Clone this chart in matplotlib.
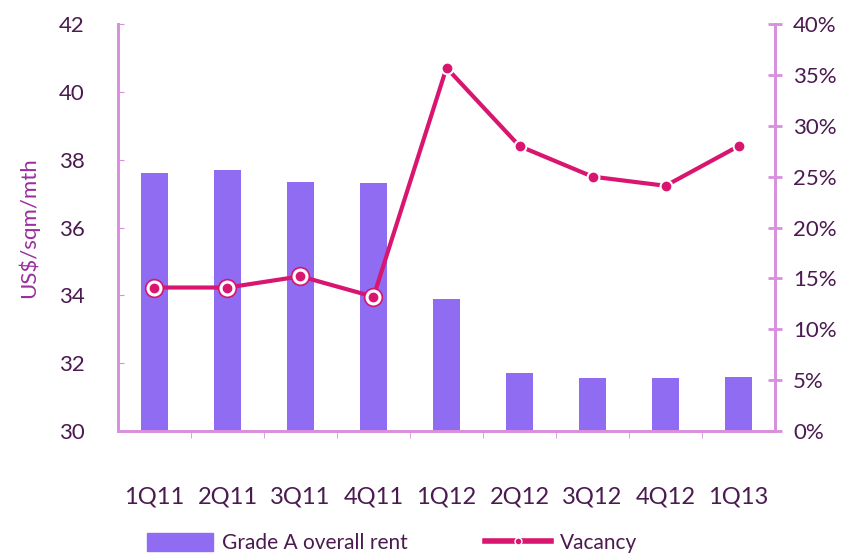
import matplotlib.pyplot as plt
from matplotlib.lines import Line2D
from matplotlib.patches import Patch

quarters = ['1Q11', '2Q11', '3Q11', '4Q11', '1Q12', '2Q12', '3Q12', '4Q12', '1Q13']
rent = [37.6, 37.7, 37.35, 37.3, 33.9, 31.7, 31.55, 31.55, 31.6]
vacancy = [14.1, 14.1, 15.2, 13.2, 35.7, 28.0, 25.0, 24.1, 28.0]

bar_color = '#8f6cf2'
line_color = '#d8166f'
axis_color = '#d890dc'
text_color = '#4b1a50'

plt.rcParams['font.family'] = ['Lato', 'DejaVu Sans']

fig = plt.figure(figsize=(8.5, 5.59), dpi=100)
ax = fig.add_axes([0.1388, 0.229, 0.773, 0.728])
ax2 = ax.twinx()

x = list(range(len(quarters)))
ax.bar(x, [r - 30 for r in rent], bottom=30, width=0.37, color=bar_color, zorder=2)

# vacancy line
ax2.plot(x, vacancy, color=line_color, lw=3, zorder=3)
ax2.plot(x[:4], vacancy[:4], 'o', ms=13, mfc=line_color, mec=line_color, zorder=4)
ax2.plot(x[:4], vacancy[:4], 'o', ms=10.5, mfc='white', mec='white', zorder=5)
ax2.plot(x[:4], vacancy[:4], 'o', ms=6, mfc=line_color, mec=line_color, zorder=6)
ax2.plot(x[4:], vacancy[4:], 'o', ms=9, mfc='white', mec='white', zorder=5)
ax2.plot(x[4:], vacancy[4:], 'o', ms=6, mfc=line_color, mec=line_color, zorder=6)

ax.set_xlim(-0.5, len(quarters) - 0.5)
ax.set_ylim(30, 42)
ax.set_yticks(range(30, 43, 2))
ax2.set_ylim(0, 40)
ax2.set_yticks(range(0, 41, 5))
ax2.set_yticklabels([f'{v}%' for v in range(0, 41, 5)])

ax.set_xticks(x)
ax.set_xticklabels(quarters)
ax.set_xticks([i + 0.5 for i in x[:-1]], minor=True)
ax.tick_params(axis='x', which='major', length=0, pad=40, labelsize=17, labelcolor=text_color)
ax.tick_params(axis='x', which='minor', length=5, direction='out', color=axis_color)
ax.tick_params(axis='y', direction='in', length=4, color=axis_color, labelsize=16,
               labelcolor=text_color, pad=24)
ax2.tick_params(axis='y', direction='inout', length=10, width=2, color=axis_color,
                labelsize=16, labelcolor=text_color, pad=8)

for a in (ax, ax2):
    a.spines['top'].set_visible(False)
    for s in ('left', 'right', 'bottom'):
        a.spines[s].set_color(axis_color)
        a.spines[s].set_linewidth(2)

ax.set_ylabel('US$/sqm/mth', fontsize=16, color='#9a2f9e', labelpad=14)

handles = [Patch(color=bar_color, label='Grade A overall rent'),
           Line2D([], [], color=line_color, lw=4, marker='o', ms=5, mfc=line_color,
                  mec='white', label='Vacancy')]
fig.legend(handles=handles, loc='center', bbox_to_anchor=(0.461, 0.029), ncol=2, frameon=False,
           fontsize=15, handlelength=3.2, handleheight=1.0, columnspacing=3.7,
           handletextpad=0.4, labelcolor=text_color)

fig.savefig('out.png', dpi=100)
